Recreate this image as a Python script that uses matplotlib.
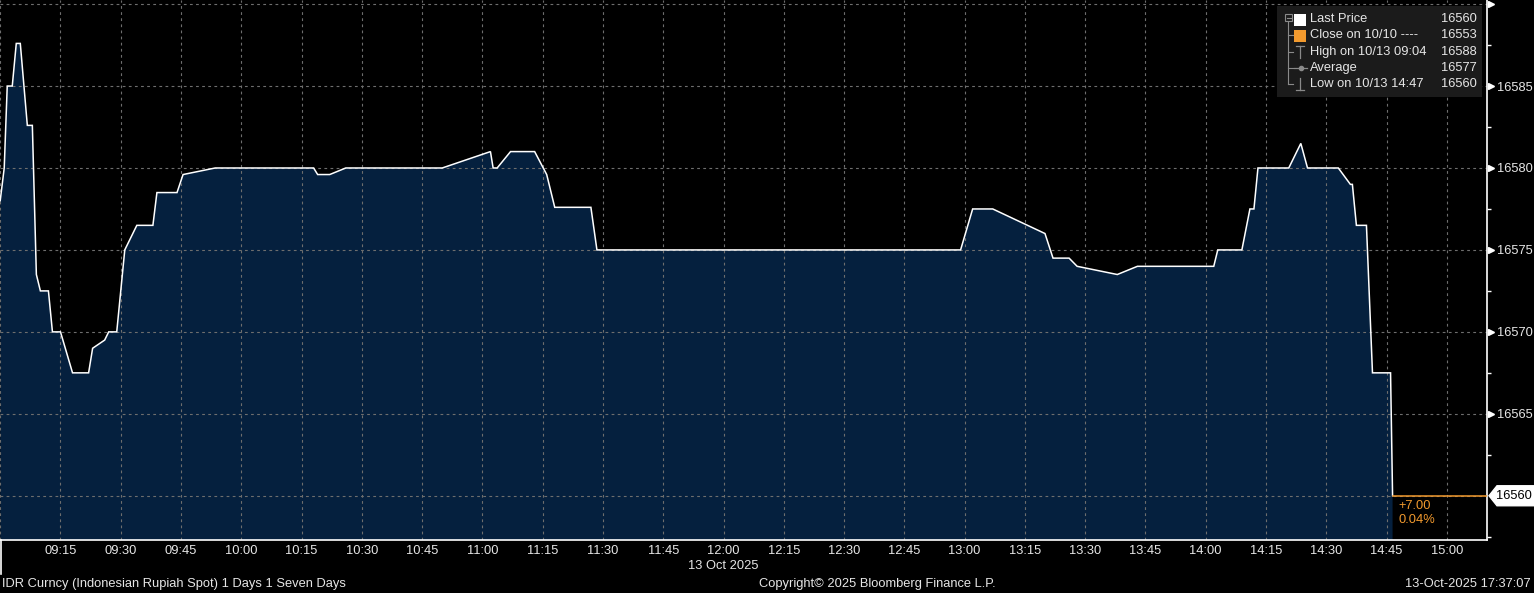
import numpy as np
import pandas as pd
import matplotlib
matplotlib.use('Agg')
from matplotlib import pyplot as plt
from matplotlib import transforms
from matplotlib.patches import Polygon, Rectangle
from matplotlib.lines import Line2D

# IDR spot, 13 Oct 2025, intraday
times = ['09:00:00', '09:01:00', '09:01:45', '09:03:00', '09:04:00', '09:05:00',
         '09:06:45', '09:08:00', '09:09:00', '09:10:00', '09:12:00', '09:13:00',
         '09:15:00', '09:18:00', '09:22:00', '09:23:00', '09:26:00', '09:27:00',
         '09:29:00', '09:31:00', '09:34:00', '09:38:00', '09:39:00', '09:44:00',
         '09:45:30', '09:53:30', '10:18:00', '10:19:00', '10:22:00', '10:26:00',
         '10:50:00', '11:02:00', '11:02:40', '11:03:40', '11:07:00', '11:13:00',
         '11:16:00', '11:18:00', '11:27:00', '11:28:30', '12:59:00', '13:02:00',
         '13:07:00', '13:20:00', '13:22:00', '13:26:00', '13:28:00', '13:38:00',
         '13:43:00', '14:02:00', '14:03:00', '14:09:00', '14:11:00', '14:12:00',
         '14:13:00', '14:20:40', '14:23:40', '14:25:20', '14:33:00', '14:36:00',
         '14:36:30', '14:37:30', '14:40:00', '14:41:30', '14:46:00', '14:46:30']
prices = [16578.0, 16580.0, 16585.0, 16585.0, 16587.6, 16587.6,
          16582.6, 16582.6, 16573.5, 16572.5, 16572.5, 16570.0,
          16570.0, 16567.5, 16567.5, 16569.0, 16569.5, 16570.0,
          16570.0, 16575.0, 16576.5, 16576.5, 16578.5, 16578.5,
          16579.6, 16580.0, 16580.0, 16579.6, 16579.6, 16580.0,
          16580.0, 16581.0, 16580.0, 16580.0, 16581.0, 16581.0,
          16579.6, 16577.6, 16577.6, 16575.0, 16575.0, 16577.5,
          16577.5, 16576.0, 16574.5, 16574.5, 16574.0, 16573.5,
          16574.0, 16574.0, 16575.0, 16575.0, 16577.5, 16577.5,
          16580.0, 16580.0, 16581.5, 16580.0, 16580.0, 16579.0,
          16579.0, 16576.5, 16576.5, 16567.5, 16567.5, 16560.0]
last_price = 16560
change_txt = ['+7.00', '0.04%']
legend_rows = [('Last Price', '16560'),
               ('Close on 10/10 ----', '16553'),
               ('High on 10/13 09:04', '16588'),
               ('Average', '16577'),
               ('Low on 10/13 14:47', '16560')]
y_labels = [16565, 16570, 16575, 16580, 16585]
y_marks = [16560, 16565, 16570, 16575, 16580, 16585, 16590]
x_ticks = ['09:00', '09:15', '09:30', '09:45', '10:00', '10:15', '10:30', '10:45',
           '11:00', '11:15', '11:30', '11:45', '12:00', '12:15', '12:30', '12:45',
           '13:00', '13:15', '13:30', '13:45', '14:00', '14:15', '14:30', '14:45',
           '15:00']


def mins(t):
    td = pd.to_timedelta(t if t.count(':') == 2 else t + ':00')
    return td.total_seconds() / 60.0 - 9 * 60


x = np.array([mins(t) for t in times])
y = np.array(prices)
xt = [mins(t) for t in x_ticks]

W, H = 1534, 593
FG = '#e6e6e6'
GRID = '#6e6e6e'
ORANGE = '#f29a2e'
FS = 9.3
plt.rcParams['font.family'] = ['Liberation Sans', 'DejaVu Sans']

fig = plt.figure(figsize=(W / 100, H / 100), dpi=100, facecolor='black')
ax = fig.add_axes([0, 1 - 540 / H, 1487 / W, 540 / H])
ax.set_facecolor('black')

ax.fill_between(x, y, 16500, color='#05203e', lw=0, zorder=1)
ax.plot(x, y, color='white', lw=1.1, zorder=3, solid_joinstyle='miter')
ax.plot([x[-1], 400], [last_price, last_price], color=ORANGE, lw=1.1, zorder=3)

ax.set_xlim(-0.05, 370)
ax.set_ylim(16557.3, 16590.25)

ax.set_xticks(xt)
ax.set_xticklabels([''] + x_ticks[1:])
ax.set_yticks(y_marks)
ax.set_yticklabels(['' if v not in y_labels else str(v) for v in y_marks])
ax.set_yticks(np.arange(16557.5, 16590, 2.5), minor=True)
ax.yaxis.tick_right()
ax.tick_params(axis='x', length=0, pad=3.5, colors=FG, labelsize=FS)
ax.tick_params(axis='y', which='major', length=0, pad=7, colors=FG, labelsize=FS)
ax.tick_params(axis='y', which='minor', length=3, width=1, colors='white', direction='out')
ax.grid(True, which='major', color=GRID, ls=(0, (2.5, 3)), lw=0.8, zorder=2)

for s in ['left', 'top']:
    ax.spines[s].set_visible(False)
for s in ['right', 'bottom']:
    ax.spines[s].set_color('white')
    ax.spines[s].set_linewidth(1.2)

# arrow-like major tick markers on the right axis
tr = transforms.blended_transform_factory(ax.transAxes, ax.transData)
ax.plot([1.0028] * (len(y_marks) - 1), [v for v in y_marks if v != 16560], ls='none',
        marker='>', ms=5, color='white', transform=tr, clip_on=False, zorder=5)

# change text near the last price
ax.text(348, 16559.4, change_txt[0], color=ORANGE, fontsize=FS, va='center', ha='left')
ax.text(348, 16558.5, change_txt[1], color=ORANGE, fontsize=FS, va='center', ha='left')


def px(a, b):
    return (a / W, 1 - b / H)


# last price flag
yl = ax.transData.transform((0, last_price))[1]
yp = H - yl
flag = Polygon([px(1489, yp), px(1497, yp - 10), px(1534, yp - 10), px(1534, yp + 10),
                px(1497, yp + 10)], closed=True, transform=fig.transFigure,
               facecolor='white', edgecolor='white', zorder=10)
fig.patches.append(flag)
fig.text(*px(1514, yp), str(last_price), color='black', fontsize=FS, ha='center',
         va='center', zorder=11)

# legend panel
fig.patches.append(Rectangle(px(1277, 97), 205 / W, 91 / H, transform=fig.transFigure,
                             facecolor='#1b1b1b', edgecolor='none', zorder=8))
row_y = [19, 35, 52, 68, 84]
for (lab, val), ry in zip(legend_rows, row_y):
    fig.text(*px(1310, ry), lab, color=FG, fontsize=FS, ha='left', va='center', zorder=9)
    fig.text(*px(1477, ry), val, color=FG, fontsize=FS, ha='right', va='center', zorder=9)
tree = '#8a8a8a'
fig.lines.append(Line2D([1288 / W, 1288 / W], [1 - 22 / H, 1 - 84 / H], color=tree, lw=0.8,
                        transform=fig.transFigure, zorder=9))
for ry in row_y[1:]:
    fig.lines.append(Line2D([1288 / W, 1293 / W], [1 - ry / H, 1 - ry / H], color=tree, lw=0.8,
                            transform=fig.transFigure, zorder=9))
fig.patches.append(Rectangle(px(1285, 21), 7 / W, 7 / H, transform=fig.transFigure,
                             facecolor='none', edgecolor=tree, lw=0.8, zorder=9))
fig.lines.append(Line2D([1286.5 / W, 1290.5 / W], [1 - 17.5 / H, 1 - 17.5 / H], color=tree,
                        lw=0.8, transform=fig.transFigure, zorder=9))
fig.patches.append(Rectangle(px(1294, 26), 12 / W, 12 / H, transform=fig.transFigure,
                             facecolor='white', edgecolor='none', zorder=9))
fig.patches.append(Rectangle(px(1294, 42), 12 / W, 12 / H, transform=fig.transFigure,
                             facecolor=ORANGE, edgecolor='none', zorder=9))
# high icon
fig.lines.append(Line2D([1300 / W] * 2, [1 - 46 / H, 1 - 58 / H], color=tree, lw=0.9,
                        transform=fig.transFigure, zorder=9))
fig.lines.append(Line2D([1296 / W, 1304 / W], [1 - 46 / H] * 2, color=tree, lw=0.9,
                        transform=fig.transFigure, zorder=9))
# average icon
fig.lines.append(Line2D([1294 / W, 1307 / W], [1 - 68 / H] * 2, color=tree, lw=0.9,
                        transform=fig.transFigure, zorder=9))
fig.lines.append(Line2D([1300.5 / W], [1 - 68 / H], color=tree, marker='o', ms=3,
                        transform=fig.transFigure, zorder=9))
# low icon
fig.lines.append(Line2D([1300 / W] * 2, [1 - 78 / H, 1 - 90 / H], color=tree, lw=0.9,
                        transform=fig.transFigure, zorder=9))
fig.lines.append(Line2D([1296 / W, 1304 / W], [1 - 90 / H] * 2, color=tree, lw=0.9,
                        transform=fig.transFigure, zorder=9))

# footer texts
fig.lines.append(Line2D([0.5 / W] * 2, [1 - 540 / H, 1 - 574 / H], color='white', lw=1.2,
                        transform=fig.transFigure))
fig.text(*px(723, 566), '13 Oct 2025', color=FG, fontsize=FS, ha='center', va='center')
fig.text(*px(2, 584), 'IDR Curncy (Indonesian Rupiah Spot) 1 Days 1 Seven Days', color=FG,
         fontsize=FS, ha='left', va='center')
fig.text(*px(877, 584), 'Copyright\u00a9 2025 Bloomberg Finance L.P.', color=FG,
         fontsize=FS, ha='center', va='center')
fig.text(*px(1531, 584), '13-Oct-2025 17:37:07', color=FG, fontsize=FS, ha='right', va='center')

fig.savefig('out.png', dpi=100, facecolor='black')
